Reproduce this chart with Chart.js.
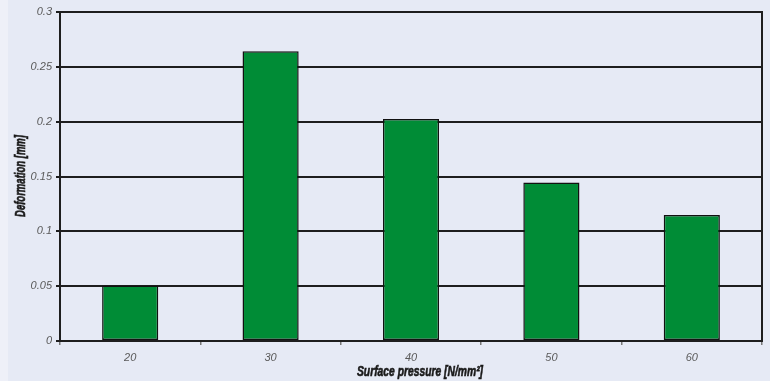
<!DOCTYPE html>
<html>
<head>
<meta charset="utf-8">
<script src="https://cdn.jsdelivr.net/npm/chart.js@4/dist/chart.umd.min.js"></script>
<style>
    html, body { margin: 0; padding: 0; background: #eef0f8; }
    #wrap { position: absolute; left: 8px; top: 0; width: 762px; height: 381px; background: #e6eaf5; }
</style>
</head>
<body>
<div id="wrap"><canvas id="deformChart" width="762" height="381"></canvas></div>
<script>
// === DEFORMATION vs SURFACE PRESSURE ===

const pressures = ['20', '30', '40', '50', '60'];
const deformation = [0.0506, 0.2643, 0.2025, 0.1445, 0.1148];
const yTicks = [0, 0.05, 0.1, 0.15, 0.2, 0.25, 0.3];
const xTitle = 'Surface pressure [N/mm²]';
const yTitle = 'Deformation [mm]';

const COLORS = { bar: '#008c36', edge: '#111', grid: '#1e1e1e', text: '#5a5a5a', title: '#1a1a1a' };
const TICK_FONT = { family: 'Arial, Liberation Sans, sans-serif', size: 11, style: 'italic' };

// condensed heavy italic text, squeezed horizontally to a given width
function condensedText(ctx, text, x, y, width, rotate) {
    ctx.save();
    ctx.font = 'italic bold 14px "Liberation Sans", Arial, sans-serif';
    ctx.fillStyle = COLORS.title;
    ctx.strokeStyle = COLORS.title;
    ctx.lineWidth = 0.6;
    ctx.textAlign = 'center';
    ctx.textBaseline = 'middle';
    ctx.translate(x, y);
    if (rotate) ctx.rotate(-Math.PI / 2);
    ctx.scale(width / ctx.measureText(text).width, 1);
    ctx.fillText(text, 0, 0);
    ctx.strokeText(text, 0, 0);
    ctx.restore();
}

// plot-area outline plus the two axis titles
const frame = {
    id: 'frame',
    afterDraw(chart) {
        const { ctx, chartArea: a } = chart;
        ctx.save();
        ctx.strokeStyle = COLORS.grid;
        ctx.lineWidth = 2;
        ctx.strokeRect(a.left, a.top, a.right - a.left, a.bottom - a.top);
        ctx.restore();
        condensedText(ctx, xTitle, 412, 372, 126, false);
        condensedText(ctx, yTitle, 13, 176, 82, true);
    }
};

const ctx = document.getElementById('deformChart').getContext('2d');
new Chart(ctx, {
    type: 'bar',
    data: {
        labels: pressures,
        datasets: [{ data: deformation, backgroundColor: COLORS.bar, borderColor: COLORS.edge, borderWidth: 1.5, borderSkipped: false, categoryPercentage: 0.4, barPercentage: 1 }]
    },
    options: {
        responsive: false, animation: false,
        layout: { padding: { top: 12, right: 8, left: 0, bottom: 0 } },
        plugins: { legend: { display: false }, tooltip: { enabled: false } },
        scales: {
            x: {
                grid: { offset: true, drawOnChartArea: false, drawTicks: true, tickLength: 4, tickColor: '#777', lineWidth: 1.5 },
                border: { display: true, color: COLORS.grid, width: 2 },
                ticks: { color: COLORS.text, padding: 6, font: TICK_FONT },
                afterFit: s => { s.height = 40; }
            },
            y: {
                min: 0, max: 0.3,
                afterBuildTicks: s => { s.ticks = yTicks.map(v => ({ value: v })); },
                grid: { color: COLORS.grid, lineWidth: 2, tickLength: 4 },
                border: { display: true, color: COLORS.grid, width: 2 },
                ticks: { color: COLORS.text, padding: 4, font: TICK_FONT, callback: v => String(+v.toFixed(2)) },
                afterFit: s => { s.width = 52; }
            }
        }
    },
    plugins: [frame]
});
</script>
</body>
</html>
